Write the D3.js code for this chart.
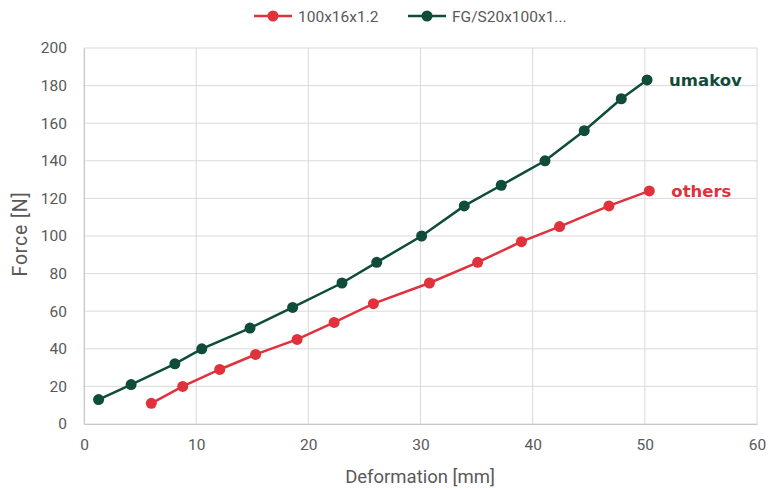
<!DOCTYPE html>
<html><head><meta charset="utf-8">
<script src="https://cdn.jsdelivr.net/npm/d3@7"></script>
<style>body{margin:0;background:#fff}svg{display:block}</style>
</head><body><svg id="c" width="776" height="488"></svg>
<script>
const seriesNames = ["100x16x1.2", "FG/S20x100x1..."];
const redX = [6.0, 8.8, 12.1, 15.3, 19.0, 22.3, 25.8, 30.8, 35.1, 39.0, 42.4, 46.8, 50.4];
const redY = [11, 20, 29, 37, 45, 54, 64, 75, 86, 97, 105, 116, 124];
const greenX = [1.3, 4.2, 8.1, 10.5, 14.8, 18.6, 23.0, 26.1, 30.1, 33.9, 37.2, 41.1, 44.6, 47.9, 50.2];
const greenY = [13, 21, 32, 40, 51, 62, 75, 86, 100, 116, 127, 140, 156, 173, 183];
const xTicks = [0, 10, 20, 30, 40, 50, 60];
const yTicks = [0, 20, 40, 60, 80, 100, 120, 140, 160, 180, 200];
const endLabels = ["others", "umakov"];
const colors = ["#e0313c", "#0f4c3a"];

const svg = d3.select("#c");
const m = {l: 84, r: 757, t: 48, b: 424};
const x = d3.scaleLinear().domain([0, 60]).range([m.l, m.r]);
const y = d3.scaleLinear().domain([0, 200]).range([m.b, m.t]);
const font = "Roboto, 'Noto Sans', sans-serif";
const gray = "#595959";

// grid
const g = svg.append("g");
g.selectAll(".vg").data(xTicks).join("line")
  .attr("x1", d => x(d)).attr("x2", d => x(d)).attr("y1", m.t).attr("y2", m.b)
  .attr("stroke", "#d9d9d9").attr("stroke-width", 1);
g.selectAll(".hg").data(yTicks).join("line")
  .attr("x1", m.l).attr("x2", m.r).attr("y1", d => y(d)).attr("y2", d => y(d))
  .attr("stroke", "#d9d9d9").attr("stroke-width", 1);

// axes
const xa = svg.append("g").attr("transform", `translate(0,${m.b})`)
  .call(d3.axisBottom(x).tickValues(xTicks).tickSize(0).tickPadding(15));
const ya = svg.append("g").attr("transform", `translate(${m.l},0)`)
  .call(d3.axisLeft(y).tickValues(yTicks).tickSize(0).tickPadding(17));
[xa, ya].forEach(a => {
  a.select(".domain").attr("stroke", "#c8c8c8");
  a.selectAll("text").attr("fill", gray).style("font-family", font).style("font-size", "15.5px");
});

svg.append("text").attr("x", 420).attr("y", 483).attr("text-anchor", "middle")
  .attr("fill", gray).style("font-family", font).style("font-size", "18.5px").text("Deformation [mm]");
svg.append("text").attr("transform", `translate(27,234) rotate(-90)`).attr("text-anchor", "middle")
  .attr("fill", gray).style("font-family", font).style("font-size", "19.5px").style("letter-spacing", "0.8px").text("Force [N]");

const data = [
  redX.map((v, i) => [v, redY[i]]),
  greenX.map((v, i) => [v, greenY[i]])
];
const line = d3.line().x(d => x(d[0])).y(d => y(d[1]));
data.forEach((s, k) => {
  svg.append("path").datum(s).attr("d", line).attr("fill", "none")
    .attr("stroke", colors[k]).attr("stroke-width", 2.5);
  svg.append("g").selectAll("circle").data(s).join("circle")
    .attr("cx", d => x(d[0])).attr("cy", d => y(d[1])).attr("r", 5.5).attr("fill", colors[k]);
  const last = s[s.length - 1];
  svg.append("text").attr("x", x(last[0]) + 22).attr("y", y(last[1]) + 6)
    .attr("fill", colors[k]).style("font-family", "'DejaVu Sans', sans-serif")
    .style("font-weight", "bold").style("font-size", "16.5px").text(endLabels[k]);
});

// legend
const legX = [254, 408];
seriesNames.forEach((n, k) => {
  const lg = svg.append("g").attr("transform", `translate(${legX[k]},16)`);
  lg.append("line").attr("x1", 0).attr("x2", 38).attr("stroke", colors[k]).attr("stroke-width", 2.5);
  lg.append("circle").attr("cx", 19).attr("r", 5.5).attr("fill", colors[k]);
  lg.append("text").attr("x", 44).attr("y", 5.5).attr("fill", gray)
    .style("font-family", font).style("font-size", "15.5px").text(n);
});
</script></body></html>
